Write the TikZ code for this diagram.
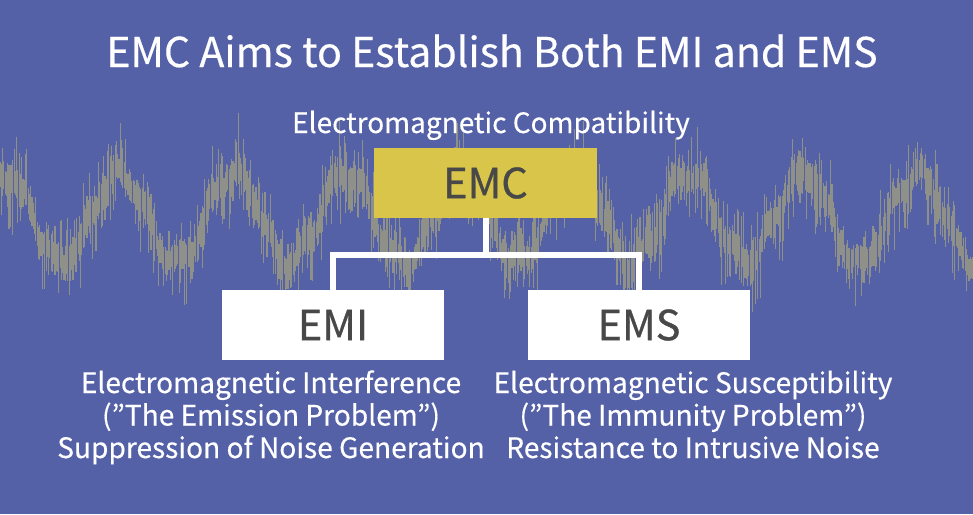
\documentclass[tikz,border=0pt]{standalone}
\usepackage{fontspec}
\setmainfont{Noto Sans CJK JP}
\newfontfamily\boxfont[FakeBold=0.7]{Noto Sans CJK JP}
\newfontfamily\lblfont[FakeBold=0.35]{Noto Sans CJK JP}
\definecolor{bgblue}{RGB}{85,97,167}
\definecolor{wavegray}{RGB}{158,156,128}
\definecolor{emcyellow}{RGB}{216,197,74}
\definecolor{boxtext}{RGB}{72,72,72}
\tikzset{
  wave/.style={draw=wavegray, line width=1.1pt, opacity=0.8},
  tbox/.style={rectangle, minimum width=222pt, minimum height=70pt, inner sep=0pt,
    text=boxtext, font=\boxfont\fontsize{41.5}{48}\selectfont},
  conn/.style={draw=white, line width=6pt},
  lbl/.style={text=white, font=\lblfont\fontsize{28.1}{32.5}\selectfont, align=center, inner sep=0pt},
}
\begin{document}
\begin{tikzpicture}[x=1pt,y=-1pt]
\fill[bgblue] (0,0) rectangle (973,514);
\useasboundingbox (0,0) rectangle (973,514);
% noisy waveform
\pgfmathsetseed{7}
\foreach \i in {0,...,760} {
  \pgfmathsetmacro\xx{\i*1.28}
  \pgfmathsetmacro\cc{218-44*cos((\xx-5)/114*360)+7*sin(\xx/31*360)}
  \pgfmathsetmacro\ta{\cc-8-50*rnd*rnd}
  \pgfmathsetmacro\tb{\cc+8+50*rnd*rnd}
  \draw[wave] (\xx,\ta) -- (\xx,\tb);
}
% title texts
\node[lbl, font=\lblfont\fontsize{41.1}{48}\selectfont, anchor=base] (title) at (492,67) {EMC Aims to Establish Both EMI and EMS};
\node[lbl, font=\lblfont\fontsize{28}{32}\selectfont, anchor=base] (sub) at (491,133) {Electromagnetic Compatibility};
% boxes
\node[tbox, fill=emcyellow, minimum width=223pt] (emc) at (485.5,183) {EMC};
\node[tbox, fill=white] (emi) at (333,325) {EMI};
\node[tbox, fill=white] (ems) at (639,325) {EMS};
\coordinate (j) at (486,255);
\draw[conn] (emc.south) -- (emc.south |- j);
\draw[conn, line join=miter] (emi.north) -- (emi.north |- j) -- (ems.north |- j) -- (ems.north);
% descriptions
\node[lbl, anchor=base] (emid) at (271,458) {Electromagnetic Interference\\(”The Emission Problem”)\\Suppression of Noise Generation};
\node[lbl, anchor=base] (emsd) at (693,458) {Electromagnetic Susceptibility\\(”The Immunity Problem”)\\Resistance to Intrusive Noise};
\end{tikzpicture}
\end{document}
